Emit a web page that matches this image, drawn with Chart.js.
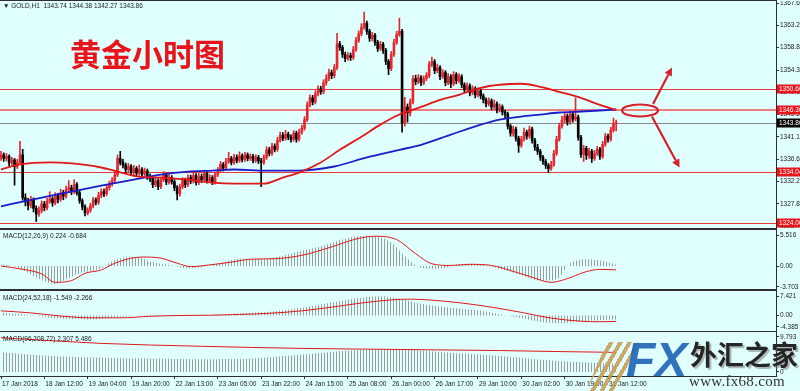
<!DOCTYPE html>
<html>
<head>
<meta charset="utf-8">
<script src="https://cdn.jsdelivr.net/npm/chart.js"></script>
<style>
  html, body { margin: 0; padding: 0; background: #e0ffff; }
  #wrap { position: relative; width: 800px; height: 391px; overflow: hidden; background: #e0ffff; font-family: 'Liberation Sans', Arial, sans-serif; }
  canvas { position: absolute; left: 0; }
  .sep { position: absolute; left: 0; width: 777px; background: #2e2e2e; }
  .lbl { position: absolute; left: 3px; font-size: 6.5px; line-height: 7px; color: #1a1a1a; white-space: nowrap; }
  #title { position: absolute; left: 70px; top: 36px; font: bold 31px 'Noto Sans CJK SC', sans-serif; color: #e8141c; line-height: 34px; letter-spacing: 0px; }
  #logo-stripes { position: absolute; left: 586px; top: 342px; width: 52px; height: 49px; opacity: .85;
    background: repeating-linear-gradient(120deg, rgba(0,0,0,0) 0 4px, #c79a4e 4px 8px);
    clip-path: polygon(40% 0, 100% 0, 60% 100%, 0 100%); }
  #logo-fx { position: absolute; left: 626px; top: 334px; font: italic bold 48px 'Liberation Sans', Arial, sans-serif; color: #1f63b5; line-height: 52px; opacity: .9; }
  #logo-cn { position: absolute; left: 690px; top: 338px; font: bold 27px 'Noto Sans CJK SC', sans-serif; color: #262626; line-height: 32px; text-shadow: 2px 2px 0 rgba(120,120,120,.5); }
  #logo-url { position: absolute; left: 689px; top: 373px; font: 15px 'Liberation Serif', serif; color: #333; line-height: 17px; letter-spacing: 0.3px; }
</style>
</head>
<body>
<div id="wrap">
  <div class="sep" style="top:0;height:1px"></div>
  <canvas id="main" width="800" height="227" style="top:1px"></canvas>
  <div class="sep" style="top:228px;height:2px"></div>
  <canvas id="macd1" width="800" height="59" style="top:230px"></canvas>
  <div class="sep" style="top:289px;height:2px"></div>
  <canvas id="macd2" width="800" height="40" style="top:291px"></canvas>
  <div class="sep" style="top:331px;height:1px"></div>
  <canvas id="macd3" width="800" height="59" style="top:332px"></canvas>

  <div class="lbl" style="top:2px">&#9660; GOLD,H1&nbsp; 1343.74 1344.38 1342.27 1343.86</div>
  <div id="title">黄金小时图</div>
  <div class="lbl" style="top:232px">MACD(12,26,9) 0.224 -0.684</div>
  <div class="lbl" style="top:294px">MACD(24,52,18) -1.549 -2.266</div>
  <div class="lbl" style="top:335px">MACD(96,208,72) 2.307 5.486</div>

  <div id="logo-stripes"></div>
  <div id="logo-fx">FX</div>
  <div id="logo-cn">外汇之家</div>
  <div id="logo-url">www.fx68.com</div>
</div>

<script>
// ---- GOLD H1 candles (bar index 0..227) ----
const opens = [
  1336.9, 1337.5, 1336.8, 1337.2, 1335.9, 1336.5, 1335.2, 1336.0, 1337.5, 1329.0,
  1328.2, 1327.5, 1328.6, 1326.9, 1325.8, 1326.5, 1327.8, 1327.0, 1328.3, 1328.8,
  1328.0, 1329.4, 1328.7, 1330.0, 1329.3, 1330.6, 1331.0, 1330.2, 1331.6, 1330.0,
  1328.4, 1327.2, 1326.0, 1326.5, 1327.4, 1328.6, 1328.1, 1329.5, 1330.2, 1329.8,
  1331.0, 1331.8, 1332.5, 1333.6, 1336.8, 1336.0, 1335.5, 1334.6, 1335.2, 1334.0,
  1334.8, 1333.9, 1334.6, 1333.7, 1334.3, 1333.2, 1332.8, 1331.6, 1332.4, 1331.2,
  1332.6, 1333.5, 1332.1, 1333.0, 1332.2, 1331.0, 1329.8, 1331.2, 1332.5, 1331.6,
  1333.0, 1332.3, 1333.4, 1332.0, 1333.2, 1332.6, 1333.8, 1332.4, 1333.0, 1332.1,
  1333.6, 1334.4, 1335.6, 1334.9, 1336.2, 1336.8, 1336.0, 1337.0, 1336.4, 1337.3,
  1336.6, 1337.5, 1336.8, 1337.2, 1336.4, 1337.0, 1336.3, 1336.0, 1337.0, 1338.5,
  1337.8, 1339.2, 1338.6, 1340.4, 1341.4, 1340.8, 1341.6, 1341.0, 1340.6, 1341.8,
  1340.6, 1342.0, 1342.8, 1344.5, 1347.4, 1348.8, 1348.0, 1349.6, 1350.6, 1350.0,
  1351.8, 1352.6, 1353.8, 1353.2, 1354.8, 1359.5, 1358.8, 1357.4, 1356.6, 1357.2,
  1356.8, 1358.4, 1360.2, 1361.5, 1362.8, 1363.6, 1362.0, 1360.6, 1361.2, 1359.8,
  1358.6, 1359.4, 1358.2, 1356.0, 1354.6, 1357.4, 1359.8, 1361.4, 1362.0, 1343.8,
  1347.0, 1345.8, 1348.0, 1352.6, 1352.0, 1352.8, 1351.8, 1352.6, 1353.2, 1355.4,
  1356.0, 1354.2, 1354.8, 1353.0, 1353.8, 1351.8, 1353.0, 1351.6, 1353.4, 1352.2,
  1353.0, 1351.4, 1350.4, 1351.2, 1349.8, 1350.6, 1349.4, 1350.2, 1349.2, 1348.4,
  1347.6, 1348.2, 1347.0, 1347.6, 1346.4, 1347.0, 1346.0, 1345.6, 1343.2, 1341.8,
  1342.6, 1340.8, 1339.4, 1340.6, 1342.0, 1341.2, 1342.6, 1340.4, 1339.0, 1338.2,
  1337.0, 1336.2, 1335.4, 1334.8, 1335.6, 1337.8, 1340.6, 1343.2, 1344.4, 1345.2,
  1344.0, 1345.6, 1344.6, 1345.0, 1341.0, 1337.6, 1338.8, 1337.4, 1338.2, 1336.8,
  1337.8, 1338.6, 1337.2, 1339.6, 1341.2, 1340.6, 1342.4, 1343.74
];
const highs = [
  1338.2, 1337.9, 1337.8, 1337.5, 1337.0, 1336.8, 1336.6, 1340.2, 1338.6, 1329.8,
  1328.9, 1329.3, 1329.0, 1327.4, 1327.2, 1328.4, 1328.3, 1328.9, 1330.2, 1329.2,
  1330.0, 1329.9, 1330.7, 1330.5, 1331.3, 1332.4, 1331.5, 1332.6, 1332.0, 1330.4,
  1328.8, 1327.6, 1327.0, 1327.9, 1329.1, 1329.0, 1330.1, 1330.8, 1330.7, 1331.5,
  1332.3, 1333.0, 1334.1, 1337.5, 1338.2, 1336.6, 1335.9, 1335.8, 1335.6, 1335.4,
  1335.2, 1335.5, 1335.0, 1334.9, 1334.7, 1333.7, 1333.1, 1332.9, 1332.8, 1333.1,
  1334.2, 1333.9, 1333.6, 1333.4, 1332.6, 1331.4, 1331.7, 1333.0, 1332.9, 1333.6,
  1333.5, 1334.0, 1333.8, 1333.8, 1333.7, 1334.4, 1334.2, 1333.6, 1333.4, 1334.1,
  1335.0, 1336.2, 1336.0, 1336.8, 1338.0, 1337.2, 1337.6, 1337.5, 1338.1, 1337.7,
  1338.0, 1337.9, 1337.7, 1337.6, 1337.5, 1337.4, 1336.8, 1337.5, 1339.1, 1339.0,
  1339.8, 1339.7, 1341.0, 1342.0, 1341.9, 1342.4, 1342.0, 1341.5, 1342.3, 1342.2,
  1342.6, 1343.4, 1345.1, 1348.0, 1349.4, 1349.3, 1350.2, 1351.2, 1351.1, 1352.4,
  1353.4, 1354.5, 1354.3, 1355.4, 1361.6, 1360.0, 1359.2, 1357.9, 1357.8, 1357.7,
  1359.0, 1360.8, 1362.1, 1363.5, 1365.8, 1364.0, 1362.4, 1361.8, 1361.6, 1360.2,
  1360.0, 1359.8, 1358.6, 1356.4, 1358.0, 1360.4, 1362.0, 1364.6, 1362.4, 1348.9,
  1347.6, 1348.6, 1353.2, 1353.3, 1353.4, 1353.2, 1353.2, 1353.8, 1356.0, 1356.9,
  1356.4, 1355.5, 1355.2, 1354.4, 1354.2, 1353.6, 1353.4, 1354.0, 1353.8, 1353.6,
  1353.4, 1351.8, 1351.8, 1351.6, 1351.2, 1351.0, 1350.8, 1350.6, 1349.6, 1348.8,
  1348.8, 1348.6, 1348.4, 1348.0, 1347.6, 1347.4, 1346.4, 1346.0, 1343.6, 1343.2,
  1343.0, 1341.2, 1341.2, 1342.8, 1342.4, 1343.2, 1343.0, 1340.8, 1339.6, 1338.6,
  1337.4, 1336.6, 1335.8, 1336.2, 1338.4, 1341.2, 1343.8, 1345.2, 1345.8, 1345.6,
  1346.2, 1346.0, 1348.8, 1345.4, 1341.4, 1339.4, 1339.2, 1338.8, 1338.6, 1338.4,
  1339.2, 1339.0, 1340.2, 1341.8, 1341.6, 1343.0, 1344.8, 1344.38
];
const lows = [
  1336.4, 1336.2, 1336.3, 1335.3, 1335.5, 1331.5, 1334.8, 1335.6, 1328.5, 1327.4,
  1326.6, 1327.0, 1326.2, 1324.3, 1325.3, 1326.0, 1326.4, 1326.6, 1327.9, 1327.3,
  1327.6, 1328.0, 1328.3, 1328.6, 1328.9, 1330.1, 1329.6, 1329.8, 1329.5, 1327.9,
  1326.6, 1325.4, 1325.6, 1326.1, 1327.0, 1327.6, 1327.7, 1329.0, 1329.2, 1329.4,
  1330.5, 1331.3, 1332.0, 1333.2, 1335.5, 1334.9, 1334.0, 1334.2, 1333.5, 1333.6,
  1333.3, 1333.5, 1333.1, 1333.3, 1332.6, 1332.2, 1331.0, 1331.2, 1330.6, 1330.8,
  1332.2, 1331.6, 1331.7, 1331.7, 1330.4, 1328.6, 1329.3, 1330.8, 1331.0, 1331.2,
  1331.8, 1331.9, 1331.5, 1331.6, 1332.0, 1332.2, 1331.9, 1332.0, 1331.6, 1331.7,
  1333.2, 1334.0, 1334.3, 1334.5, 1335.8, 1335.5, 1335.6, 1335.9, 1336.0, 1336.1,
  1336.2, 1336.3, 1336.4, 1335.9, 1336.0, 1335.8, 1331.2, 1335.6, 1336.6, 1337.3,
  1337.4, 1338.1, 1338.2, 1340.0, 1340.3, 1340.4, 1340.5, 1340.0, 1340.2, 1340.0,
  1340.2, 1341.6, 1342.4, 1344.1, 1347.0, 1347.4, 1347.6, 1349.2, 1349.5, 1349.6,
  1351.3, 1352.2, 1352.6, 1352.8, 1354.4, 1358.2, 1356.8, 1356.0, 1356.2, 1356.2,
  1356.4, 1358.0, 1359.8, 1361.1, 1362.4, 1361.4, 1360.0, 1360.1, 1359.2, 1358.0,
  1358.2, 1357.6, 1355.4, 1353.4, 1354.2, 1357.0, 1359.4, 1361.0, 1342.0, 1343.2,
  1344.0, 1345.2, 1347.6, 1351.4, 1351.6, 1351.2, 1351.4, 1352.2, 1352.8, 1355.0,
  1353.6, 1353.8, 1352.4, 1352.6, 1351.2, 1351.4, 1350.8, 1351.2, 1351.6, 1351.8,
  1350.8, 1349.8, 1350.0, 1349.2, 1349.4, 1348.8, 1349.0, 1348.6, 1347.8, 1347.0,
  1347.2, 1346.4, 1346.6, 1345.8, 1346.0, 1345.4, 1344.8, 1342.6, 1341.2, 1341.2,
  1340.2, 1338.0, 1339.0, 1340.2, 1340.6, 1340.8, 1339.8, 1338.4, 1337.6, 1336.4,
  1335.6, 1334.8, 1334.0, 1334.4, 1335.2, 1337.4, 1340.2, 1342.8, 1343.8, 1343.4,
  1343.6, 1344.0, 1344.2, 1340.4, 1337.0, 1336.2, 1336.6, 1336.8, 1336.0, 1336.4,
  1337.4, 1336.6, 1336.8, 1339.2, 1340.0, 1340.2, 1342.0, 1342.27
];
const closes = [
  1337.5, 1336.8, 1337.2, 1335.9, 1336.5, 1335.2, 1336.0, 1337.5, 1329.0, 1328.2,
  1327.5, 1328.6, 1326.9, 1325.8, 1326.5, 1327.8, 1327.0, 1328.3, 1328.8, 1328.0,
  1329.4, 1328.7, 1330.0, 1329.3, 1330.6, 1331.0, 1330.2, 1331.6, 1330.0, 1328.4,
  1327.2, 1326.0, 1326.5, 1327.4, 1328.6, 1328.1, 1329.5, 1330.2, 1329.8, 1331.0,
  1331.8, 1332.5, 1333.6, 1336.8, 1336.0, 1335.5, 1334.6, 1335.2, 1334.0, 1334.8,
  1333.9, 1334.6, 1333.7, 1334.3, 1333.2, 1332.8, 1331.6, 1332.4, 1331.2, 1332.6,
  1333.5, 1332.1, 1333.0, 1332.2, 1331.0, 1329.8, 1331.2, 1332.5, 1331.6, 1333.0,
  1332.3, 1333.4, 1332.0, 1333.2, 1332.6, 1333.8, 1332.4, 1333.0, 1332.1, 1333.6,
  1334.4, 1335.6, 1334.9, 1336.2, 1336.8, 1336.0, 1337.0, 1336.4, 1337.3, 1336.6,
  1337.5, 1336.8, 1337.2, 1336.4, 1337.0, 1336.3, 1336.0, 1337.0, 1338.5, 1337.8,
  1339.2, 1338.6, 1340.4, 1341.4, 1340.8, 1341.6, 1341.0, 1340.6, 1341.8, 1340.6,
  1342.0, 1342.8, 1344.5, 1347.4, 1348.8, 1348.0, 1349.6, 1350.6, 1350.0, 1351.8,
  1352.6, 1353.8, 1353.2, 1354.8, 1359.5, 1358.8, 1357.4, 1356.6, 1357.2, 1356.8,
  1358.4, 1360.2, 1361.5, 1362.8, 1363.6, 1362.0, 1360.6, 1361.2, 1359.8, 1358.6,
  1359.4, 1358.2, 1356.0, 1354.6, 1357.4, 1359.8, 1361.4, 1362.0, 1343.8, 1347.0,
  1345.8, 1348.0, 1352.6, 1352.0, 1352.8, 1351.8, 1352.6, 1353.2, 1355.4, 1356.0,
  1354.2, 1354.8, 1353.0, 1353.8, 1351.8, 1353.0, 1351.6, 1353.4, 1352.2, 1353.0,
  1351.4, 1350.4, 1351.2, 1349.8, 1350.6, 1349.4, 1350.2, 1349.2, 1348.4, 1347.6,
  1348.2, 1347.0, 1347.6, 1346.4, 1347.0, 1346.0, 1345.6, 1343.2, 1341.8, 1342.6,
  1340.8, 1339.4, 1340.6, 1342.0, 1341.2, 1342.6, 1340.4, 1339.0, 1338.2, 1337.0,
  1336.2, 1335.4, 1334.8, 1335.6, 1337.8, 1340.6, 1343.2, 1344.4, 1345.2, 1344.0,
  1345.6, 1344.6, 1345.0, 1341.0, 1337.6, 1338.8, 1337.4, 1338.2, 1336.8, 1337.8,
  1338.6, 1337.2, 1339.6, 1341.2, 1340.6, 1342.4, 1343.74, 1343.86
];

// moving averages, read at some bars
const maRedBars = [0, 7, 18, 26, 37, 43, 51, 59, 69, 78, 86, 97, 104, 110, 118, 125, 133, 140, 147, 155, 162, 169, 177, 184, 192, 199, 206, 214, 221, 227];
const maRed = [1334.6, 1335.6, 1336.0, 1335.8, 1335.0, 1334.2, 1333.2, 1333.0, 1332.6, 1332.0, 1331.8, 1331.8, 1333.0, 1334.0, 1336.0, 1338.5, 1341.1, 1343.5, 1345.5, 1347.0, 1348.4, 1349.4, 1350.8, 1351.4, 1351.6, 1351.0, 1350.0, 1348.8, 1347.4, 1346.4];
const maBlueBars = [0, 12, 25, 37, 49, 59, 69, 78, 86, 98, 110, 123, 135, 147, 155, 166, 177, 184, 192, 199, 206, 214, 221, 227];
const maBlue = [1327.3, 1328.7, 1330.1, 1331.4, 1332.6, 1333.6, 1334.2, 1334.4, 1334.6, 1334.4, 1334.4, 1335.2, 1337.0, 1338.5, 1339.5, 1341.5, 1343.5, 1344.5, 1345.1, 1345.5, 1345.9, 1346.1, 1346.3, 1346.5];

// horizontal levels
const levels = [1350.60, 1346.30, 1334.04, 1324.00];
const lastPrice = 1343.86;
const priceTicks = [1367.60, 1363.20, 1358.80, 1354.30, 1349.90, 1345.50, 1341.10, 1336.60, 1332.20, 1327.80, 1323.40];

// MACD(12,26,9)
const m1HistBars = [0, 6, 11, 17, 20, 24, 29, 37, 40, 44, 50, 55, 63, 68, 74, 81, 88, 96, 101, 110, 118, 125, 133, 138, 144, 149, 155, 162, 170, 177, 184, 192, 199, 205, 210, 217, 223, 227];
const m1Hist = [0.3, -0.2, -1.5, -2.9, -3.2, -2.4, -1.3, -0.4, 0.6, 1.4, 1.6, 0.8, 0.1, -0.4, -0.2, 0.6, 1.3, 1.2, 1.5, 2.6, 3.5, 4.6, 5.4, 5.3, 4.2, 1.8, -0.3, -0.5, 0.4, 0.3, -0.5, -1.6, -2.6, -2.4, 0.5, 1.2, 0.8, 0.224];
const m1SigBars = [0, 7, 15, 20, 26, 31, 37, 42, 52, 59, 65, 70, 77, 85, 92, 101, 111, 122, 131, 138, 146, 153, 159, 166, 173, 181, 188, 196, 203, 208, 216, 221, 227];
const m1Sig = [0.0, -0.5, -1.4, -2.9, -2.6, -1.3, -0.7, 0.5, 1.6, 1.4, 0.5, -0.1, 0.2, 0.7, 1.2, 1.3, 1.9, 3.4, 4.8, 5.3, 4.7, 2.2, 0.4, 0.1, 0.3, 0.1, -0.8, -2.0, -2.9, -2.4, -1.0, -0.6, -0.684];
const m1Ticks = [5.516, 0, -3.703];
const m1TickLabels = ['5.516', '0.00', '-3.703'];

// MACD(24,52,18)
const m2HistBars = [0, 11, 22, 33, 44, 55, 66, 77, 88, 100, 111, 122, 133, 140, 148, 155, 166, 177, 184, 192, 199, 207, 214, 221, 227];
const m2Hist = [1.2, 0.2, -1.2, -1.5, -0.5, 0.3, 0.0, 0.2, 0.8, 1.5, 3.0, 5.0, 6.8, 7.4, 6.2, 4.5, 3.0, 1.8, 0.5, -1.0, -2.5, -3.0, -2.2, -1.8, -1.549];
const m2SigBars = [0, 11, 22, 33, 44, 55, 66, 77, 88, 100, 111, 122, 133, 144, 151, 159, 170, 181, 192, 203, 214, 221, 227];
const m2Sig = [1.8, 1.0, -0.2, -0.9, -0.9, -0.3, 0.0, 0.1, 0.4, 0.9, 1.8, 3.2, 4.8, 6.0, 6.3, 5.9, 4.8, 3.2, 1.2, -1.0, -2.2, -2.4, -2.266];
const m2Ticks = [7.421, 0, -4.385];
const m2TickLabels = ['7.421', '0.00', '-4.385'];

// MACD(96,208,72)
const m3HistBars = [0, 18, 37, 55, 74, 92, 111, 129, 148, 166, 184, 203, 218, 227];
const m3Hist = [5.5, 4.5, 4.0, 3.8, 3.6, 3.8, 4.8, 6.0, 6.2, 5.4, 4.5, 3.2, 2.6, 2.307];
const m3SigBars = [0, 37, 74, 111, 148, 184, 207, 227];
const m3Sig = [9.6, 8.0, 7.2, 6.6, 6.3, 6.0, 5.7, 5.486];
const m3Ticks = [9.793, 0];
const m3TickLabels = ['9.793', '0'];

// time axis
const timeBars = [0, 16, 32, 48, 64, 80, 96, 112, 128, 144, 160, 176, 192, 208, 224];
const timeLabels = ['17 Jan 2018', '18 Jan 12:00', '19 Jan 04:00', '19 Jan 20:00', '22 Jan 13:00', '23 Jan 05:00', '23 Jan 22:00', '24 Jan 15:00', '25 Jan 08:00', '26 Jan 00:00', '26 Jan 17:00', '29 Jan 10:00', '30 Jan 02:00', '30 Jan 19:00', '31 Jan 12:00'];

// drawn annotation: ring on the MA crossing and two arrows (bar, price)
const ring = [235.8, 1346.3];
const arrowUp = [[240.6, 1347.6], [247.6, 1354.8]];
const arrowDown = [[240.2, 1345.1], [250.4, 1335.0]];

// ---- styles ----
const RED = '#e8141c';
const BULL = '#e8262e';
const BEAR = '#000000';
const AXIS = '#2e2e2e';
const TXT = '#1a1a1a';
const levelColors = ['#e83a3a', '#f07c7c', '#e83a3a', '#e83a3a'];
const levelWidths = [1, 2, 1, 1];
const X_MIN = -0.37, X_MAX = 285.98;

Chart.defaults.font.family = "'Liberation Sans', Arial, sans-serif";
Chart.defaults.font.size = 6.5;
Chart.defaults.color = TXT;

const pts = (bars, vals) => bars.map((b, k) => ({ x: b, y: vals[k] }));
const candleColor = c => closes[c.dataIndex] >= opens[c.dataIndex] ? BULL : BEAR;

function rightAxis(min, max, ticks, labels) {
  return {
    position: 'right', min: min, max: max,
    afterBuildTicks: s => { s.ticks = ticks.map(v => ({ value: v })); },
    afterFit: s => { s.width = 24; s.paddingTop = 0; s.paddingBottom = 0; },
    ticks: { autoSkip: false, padding: 1, color: TXT, callback: (v, k) => labels[k] },
    grid: { drawOnChartArea: false, tickLength: 3, color: AXIS },
    border: { color: AXIS, width: 1 }
  };
}

function xAxis(show) {
  return {
    type: 'linear', min: X_MIN, max: X_MAX, offset: false, display: show, position: 'bottom',
    afterBuildTicks: s => { s.ticks = timeBars.map(v => ({ value: v })); },
    afterFit: s => { s.height = show ? 15 : 0; s.paddingLeft = 0; s.paddingRight = 0; },
    ticks: { autoSkip: false, maxRotation: 0, align: 'start', labelOffset: 1, padding: 1, color: TXT,
             callback: (v, k) => timeLabels[k] },
    grid: { drawOnChartArea: false, tickLength: 3, color: AXIS },
    border: { color: AXIS, width: 1 }
  };
}

function arrow(ctx, x1, y1, x2, y2) {
  const ang = Math.atan2(y2 - y1, x2 - x1);
  const hx = x2 - 8 * Math.cos(ang), hy = y2 - 8 * Math.sin(ang);
  ctx.beginPath(); ctx.moveTo(x1, y1); ctx.lineTo(hx, hy); ctx.stroke();
  ctx.beginPath();
  ctx.moveTo(x2, y2);
  ctx.lineTo(hx + 4 * Math.sin(ang), hy - 4 * Math.cos(ang));
  ctx.lineTo(hx - 4 * Math.sin(ang), hy + 4 * Math.cos(ang));
  ctx.closePath(); ctx.fill();
}

// level lines, price tags and the hand-drawn marks
const mainDecor = {
  id: 'mainDecor',
  beforeDatasetsDraw(chart) {
    const { ctx, chartArea: a, scales: { y } } = chart;
    ctx.save();
    const gy = Math.round(y.getPixelForValue(lastPrice)) + 0.5;
    ctx.strokeStyle = '#8a8a8a'; ctx.lineWidth = 1;
    ctx.beginPath(); ctx.moveTo(a.left, gy); ctx.lineTo(a.right, gy); ctx.stroke();
    levels.forEach((v, k) => {
      const py = Math.round(y.getPixelForValue(v)) + (levelWidths[k] % 2 ? 0.5 : 0);
      ctx.strokeStyle = levelColors[k]; ctx.lineWidth = levelWidths[k];
      ctx.beginPath(); ctx.moveTo(a.left, py); ctx.lineTo(a.right, py); ctx.stroke();
    });
    ctx.restore();
  },
  afterDraw(chart) {
    const { ctx, chartArea: a, scales: { x, y } } = chart;
    ctx.save();
    const tag = (v, bg) => {
      let py = Math.round(y.getPixelForValue(v));
      py = Math.min(py, a.bottom - 5);
      ctx.fillStyle = bg; ctx.fillRect(a.right + 1, py - 4.5, 800 - a.right, 9);
      ctx.fillStyle = '#ffffff'; ctx.textBaseline = 'middle'; ctx.textAlign = 'left';
      ctx.font = "6.5px 'Liberation Sans', Arial, sans-serif";
      ctx.fillText(v.toFixed(2), a.right + 3, py + 0.5);
    };
    levels.forEach(v => tag(v, RED));
    tag(lastPrice, '#000000');

    ctx.strokeStyle = '#d8202a'; ctx.fillStyle = '#d8202a'; ctx.lineWidth = 2.2;
    ctx.beginPath();
    ctx.ellipse(x.getPixelForValue(ring[0]), y.getPixelForValue(ring[1]), 18, 6, 0, 0, Math.PI * 2);
    ctx.stroke();
    [arrowUp, arrowDown].forEach(ar => arrow(ctx,
      x.getPixelForValue(ar[0][0]), y.getPixelForValue(ar[0][1]),
      x.getPixelForValue(ar[1][0]), y.getPixelForValue(ar[1][1])));
    ctx.restore();
  }
};

const bars = closes.map((c, i) => i);

new Chart(document.getElementById('main'), {
  type: 'bar',
  data: {
    datasets: [
      { type: 'line', data: pts(maRedBars, maRed), borderColor: '#e01818', borderWidth: 1.8, pointRadius: 0,
        cubicInterpolationMode: 'monotone', order: 0 },
      { type: 'line', data: pts(maBlueBars, maBlue), borderColor: '#1c1cc8', borderWidth: 1.8, pointRadius: 0,
        cubicInterpolationMode: 'monotone', order: 0 },
      { data: bars.map(i => ({ x: i, y: [opens[i], closes[i]] })), backgroundColor: candleColor,
        barThickness: 2, minBarLength: 1, grouped: false, order: 1 },
      { data: bars.map(i => ({ x: i, y: [lows[i], highs[i]] })), backgroundColor: candleColor,
        barThickness: 1, grouped: false, order: 2 }
    ]
  },
  options: {
    responsive: false, animation: false, devicePixelRatio: 1,
    layout: { padding: 0 },
    plugins: { legend: { display: false }, tooltip: { enabled: false } },
    scales: {
      x: xAxis(false),
      y: rightAxis(1323.01, 1368.0, priceTicks, priceTicks.map(v => v.toFixed(2)))
    }
  },
  plugins: [mainDecor]
});

// MACD panels: grey histogram drawn as striped fill, red signal line
function macdPanel(id, min, max, ticks, labels, hist, sig, withTime) {
  const cv = document.getElementById(id);
  const tile = document.createElement('canvas');
  tile.width = 3; tile.height = 1;
  const tc = tile.getContext('2d');
  tc.fillStyle = '#9c9c9c'; tc.fillRect(0, 0, 1, 1);
  const stripes = cv.getContext('2d').createPattern(tile, 'repeat');
  new Chart(cv, {
    type: 'line',
    data: {
      datasets: [
        { data: sig, borderColor: '#e01818', borderWidth: 1, pointRadius: 0, cubicInterpolationMode: 'monotone', fill: false, order: 0 },
        { data: hist, borderWidth: 0, borderColor: 'rgba(0,0,0,0)', backgroundColor: stripes, pointRadius: 0,
          cubicInterpolationMode: 'monotone', fill: 'origin', order: 1 }
      ]
    },
    options: {
      responsive: false, animation: false, devicePixelRatio: 1,
      layout: { padding: 0 },
      plugins: { legend: { display: false }, tooltip: { enabled: false } },
      scales: { x: xAxis(withTime), y: rightAxis(min, max, ticks, labels) }
    }
  });
}

macdPanel('macd1', -4.09, 6.41, m1Ticks, m1TickLabels, pts(m1HistBars, m1Hist), pts(m1SigBars, m1Sig), false);
macdPanel('macd2', -5.96, 9.42, m2Ticks, m2TickLabels, pts(m2HistBars, m2Hist), pts(m2SigBars, m2Sig), false);
macdPanel('macd3', -1.12, 11.19, m3Ticks, m3TickLabels, pts(m3HistBars, m3Hist), pts(m3SigBars, m3Sig), true);
</script>
</body>
</html>
